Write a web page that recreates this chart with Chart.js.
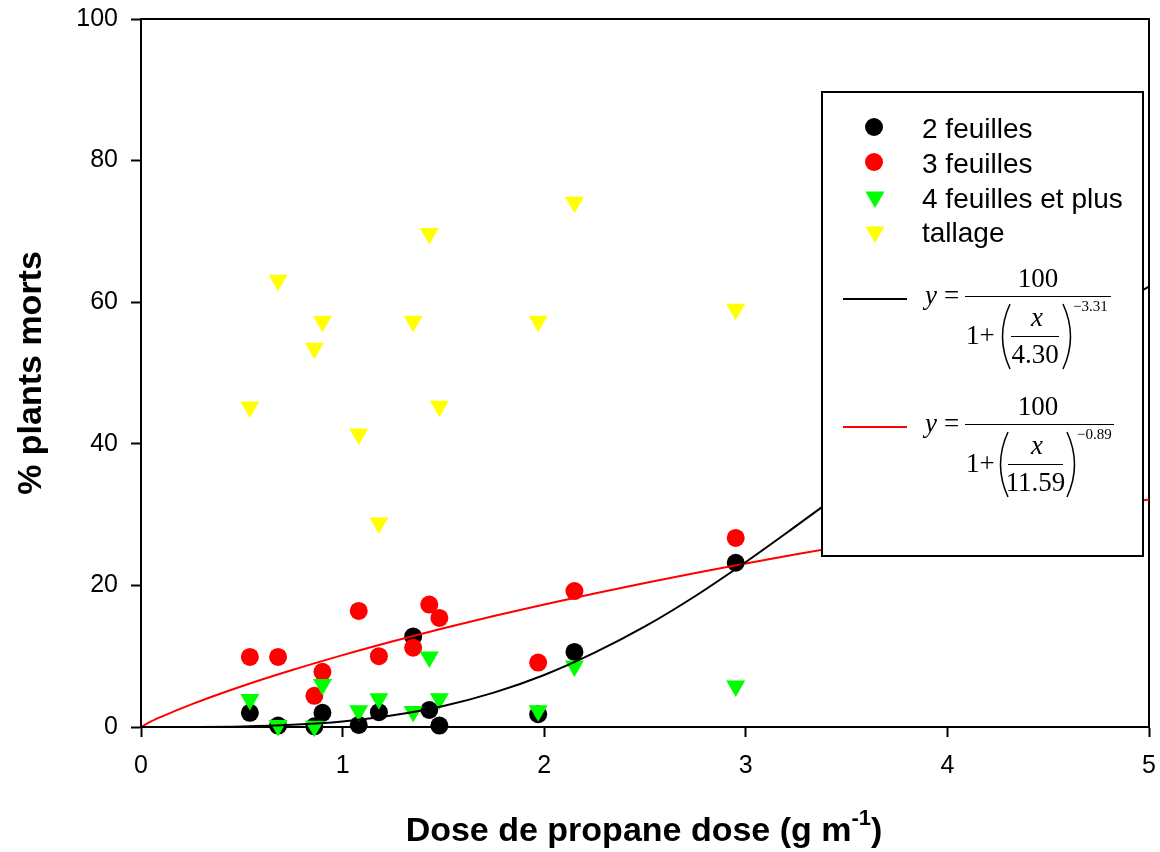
<!DOCTYPE html>
<html>
<head>
<meta charset="utf-8">
<script src="https://cdn.jsdelivr.net/npm/chart.js@4"></script>
<style>
  html, body { margin: 0; padding: 0; background: #fff; }
  #wrap { width: 1160px; height: 852px; }
</style>
</head>
<body>
<div id="wrap"><canvas id="doseChart" width="1160" height="852"></canvas></div>
<script>
// Doses (g m-1) shared by the four stages
const doses = [0.54, 0.68, 0.86, 0.90, 1.08, 1.18, 1.35, 1.43, 1.48, 1.97, 2.15, 2.95];

// % plants morts per stage
const deux = [2.0, 0.2, 0.1, 2.0, 0.3, 2.1, 12.8, 2.4, 0.2, 1.8, 10.6, 23.2];
const trois = [9.9, 9.9, 4.4, 7.8, 16.4, 10.0, 11.2, 17.3, 15.4, 9.1, 19.2, 26.7];
const quatre = [3.9, 0.2, 0.1, 6.0, 2.3, 4.0, 2.2, 9.9, 4.0, 2.3, 8.6, 5.8];
const tallage = [45.2, 63.1, 53.5, 57.3, 41.4, 28.8, 57.3, 69.7, 45.3, 57.3, 74.1, 59.0];

// Fitted curves, read along the x axis
const curveX = [0, 0.05, 0.1, 0.25, 0.5, 0.75, 1, 1.25, 1.5, 1.75, 2, 2.25, 2.5, 2.75, 3, 3.25, 3.5, 3.75, 4, 4.25, 4.5, 4.75, 5];
const fitNoir = [0, 0, 0, 0.01, 0.08, 0.31, 0.79, 1.65, 2.97, 4.85, 7.35, 10.5, 14.2, 18.5, 23.3, 28.4, 33.6, 38.9, 44.0, 49.0, 53.8, 58.2, 62.2];
const fitRouge = [0, 0.78, 1.43, 3.19, 5.75, 8.04, 10.15, 12.11, 13.95, 15.68, 17.31, 18.86, 20.34, 21.75, 23.09, 24.39, 25.62, 26.81, 27.95, 29.05, 30.11, 31.13, 32.12];

const xTicks = [0, 1, 2, 3, 4, 5];
const yTicks = [0, 20, 40, 60, 80, 100];

const sans = '"Liberation Sans", Arial, sans-serif';
const serif = '"Liberation Serif", "Times New Roman", serif';

function pts(xs, ys) {
    return xs.map((x, i) => ({ x: x, y: ys[i] }));
}

// draws the frame, the boxed legend with the two equations and the x title
const decorPlugin = {
    id: 'decor',
    beforeDatasetsDraw(chart) {
        const { ctx, chartArea: a } = chart;
        ctx.save();
        ctx.strokeStyle = '#000';
        ctx.lineWidth = 2;
        ctx.strokeRect(a.left, a.top, a.right - a.left, a.bottom - a.top);
        ctx.restore();
    },
    afterDraw(chart) {
        const ctx = chart.ctx;
        ctx.save();

        // legend box
        ctx.fillStyle = '#fff';
        ctx.fillRect(822, 92, 321, 464);
        ctx.strokeStyle = '#000';
        ctx.lineWidth = 2;
        ctx.strokeRect(822, 92, 321, 464);

        // symbol entries
        ctx.fillStyle = '#000';
        ctx.beginPath(); ctx.arc(874, 127, 9, 0, Math.PI * 2); ctx.fill();
        ctx.fillStyle = '#ff0000';
        ctx.beginPath(); ctx.arc(874, 162, 9, 0, Math.PI * 2); ctx.fill();
        function tri(cx, cy, color) {
            const r = 11;
            ctx.fillStyle = color;
            ctx.beginPath();
            ctx.moveTo(cx - r * 0.866, cy - r / 2);
            ctx.lineTo(cx + r * 0.866, cy - r / 2);
            ctx.lineTo(cx, cy + r);
            ctx.closePath();
            ctx.fill();
        }
        tri(875, 197, '#00ff00');
        tri(875, 232, '#ffff00');

        ctx.fillStyle = '#000';
        ctx.font = '28px ' + sans;
        ctx.textAlign = 'left';
        ctx.textBaseline = 'alphabetic';
        ctx.fillText('2 feuilles', 922, 138);
        ctx.fillText('3 feuilles', 922, 173);
        ctx.fillText('4 feuilles et plus', 922, 208);
        ctx.fillText('tallage', 922, 242);

        // line samples
        ctx.lineWidth = 2;
        ctx.strokeStyle = '#000';
        ctx.beginPath(); ctx.moveTo(843, 299); ctx.lineTo(907, 299); ctx.stroke();
        ctx.strokeStyle = '#ff0000';
        ctx.beginPath(); ctx.moveTo(843, 427); ctx.lineTo(907, 427); ctx.stroke();

        // y = 100 / (1 + (x / b)^c)
        function equation(dy, barEnd, b, c, parenL, parenR, innerL, innerR, expX) {
            ctx.fillStyle = '#000';
            ctx.strokeStyle = '#000';
            ctx.textAlign = 'left';
            ctx.font = 'italic 27px ' + serif;
            ctx.fillText('y', 925, 304 + dy);
            ctx.font = '27px ' + serif;
            ctx.fillText('=', 944, 304 + dy);
            ctx.lineWidth = 1;
            ctx.beginPath(); ctx.moveTo(965, 296.5 + dy); ctx.lineTo(barEnd, 296.5 + dy); ctx.stroke();
            ctx.textAlign = 'center';
            ctx.fillText('100', 1038, 287 + dy);
            ctx.textAlign = 'left';
            ctx.fillText('1+', 966, 344 + dy);
            ctx.font = 'italic 27px ' + serif;
            ctx.textAlign = 'center';
            ctx.fillText('x', 1037, 326 + dy);
            ctx.beginPath(); ctx.moveTo(innerL, 336.5 + dy); ctx.lineTo(innerR, 336.5 + dy); ctx.stroke();
            ctx.font = '27px ' + serif;
            ctx.fillText(b, (innerL + innerR) / 2, 363 + dy);
            // large parentheses
            ctx.lineWidth = 1.5;
            const top = 304 + dy, bot = 369 + dy, mid = (top + bot) / 2;
            ctx.beginPath();
            ctx.moveTo(parenL + 9, top);
            ctx.quadraticCurveTo(parenL - 6, mid, parenL + 9, bot);
            ctx.stroke();
            ctx.beginPath();
            ctx.moveTo(parenR - 9, top);
            ctx.quadraticCurveTo(parenR + 6, mid, parenR - 9, bot);
            ctx.stroke();
            ctx.font = '15px ' + serif;
            ctx.textAlign = 'left';
            ctx.fillText(c, expX, 311 + dy);
        }
        equation(0, 1111, '4.30', '\u22123.31', 1001, 1072, 1011, 1059, 1073);
        equation(128, 1114, '11.59', '\u22120.89', 999, 1076, 1008, 1063, 1077);

        // x axis title with superscript
        const main = 'Dose de propane dose (g m';
        const sup = '-1';
        const close = ')';
        const bigFont = 'bold 34px ' + sans;
        const supFont = 'bold 22px ' + sans;
        ctx.font = bigFont;
        const w1 = ctx.measureText(main).width;
        const w3 = ctx.measureText(close).width;
        ctx.font = supFont;
        const w2 = ctx.measureText(sup).width;
        const total = w1 + w2 + w3;
        let x0 = 644 - total / 2;
        ctx.textAlign = 'left';
        ctx.fillStyle = '#000';
        ctx.font = bigFont;
        ctx.fillText(main, x0, 841);
        ctx.font = supFont;
        ctx.fillText(sup, x0 + w1, 825);
        ctx.font = bigFont;
        ctx.fillText(close, x0 + w1 + w2, 841);

        ctx.restore();
    }
};

const pointCommon = {
    showLine: false,
    clip: false,
    pointBorderWidth: 0
};

new Chart(document.getElementById('doseChart'), {
    type: 'scatter',
    data: {
        datasets: [
            {
                label: 'fit 2 feuilles',
                data: pts(curveX, fitNoir),
                showLine: true,
                borderColor: '#000',
                borderWidth: 2,
                pointRadius: 0,
                cubicInterpolationMode: 'monotone',
                order: 1
            },
            {
                label: 'fit 3 feuilles',
                data: pts(curveX, fitRouge),
                showLine: true,
                borderColor: '#ff0000',
                borderWidth: 2,
                pointRadius: 0,
                cubicInterpolationMode: 'monotone',
                order: 2
            },
            Object.assign({
                label: 'tallage',
                data: pts(doses, tallage),
                pointStyle: 'triangle',
                pointRotation: 180,
                pointRadius: 11,
                backgroundColor: '#ffff00',
                borderColor: '#ffff00',
                order: 3
            }, pointCommon),
            Object.assign({
                label: '4 feuilles et plus',
                data: pts(doses, quatre),
                pointStyle: 'triangle',
                pointRotation: 180,
                pointRadius: 11,
                backgroundColor: '#00ff00',
                borderColor: '#00ff00',
                order: 4
            }, pointCommon),
            Object.assign({
                label: '3 feuilles',
                data: pts(doses, trois),
                pointStyle: 'circle',
                pointRadius: 9,
                backgroundColor: '#ff0000',
                borderColor: '#ff0000',
                order: 5
            }, pointCommon),
            Object.assign({
                label: '2 feuilles',
                data: pts(doses, deux),
                pointStyle: 'circle',
                pointRadius: 9,
                backgroundColor: '#000',
                borderColor: '#000',
                order: 6
            }, pointCommon)
        ]
    },
    options: {
        responsive: false,
        animation: false,
        layout: { padding: { top: 19, right: 11, left: 0, bottom: 0 } },
        plugins: {
            legend: { display: false },
            tooltip: { enabled: false }
        },
        scales: {
            x: {
                type: 'linear',
                min: 0,
                max: 5,
                afterFit: function(scale) {
                    scale.height = 125;
                    scale.paddingLeft = 0;
                    scale.paddingRight = 0;
                },
                afterBuildTicks: function(scale) { scale.ticks = xTicks.map(v => ({ value: v })); },
                grid: { drawOnChartArea: false, drawTicks: true, tickLength: 10, tickColor: '#000', tickWidth: 2 },
                border: { display: true, color: '#000', width: 2 },
                ticks: { color: '#000', font: { family: sans, size: 25 }, padding: 14, maxRotation: 0 }
            },
            y: {
                type: 'linear',
                min: 0,
                max: 100,
                afterFit: function(scale) {
                    scale.width = 141;
                    scale.paddingTop = 0;
                    scale.paddingBottom = 0;
                },
                afterBuildTicks: function(scale) { scale.ticks = yTicks.map(v => ({ value: v })); },
                grid: { drawOnChartArea: false, drawTicks: true, tickLength: 10, tickColor: '#000', tickWidth: 2 },
                border: { display: true, color: '#000', width: 2 },
                ticks: { color: '#000', font: { family: sans, size: 25 }, padding: 13 },
                title: {
                    display: true,
                    text: '% plants morts',
                    color: '#000',
                    font: { family: sans, size: 34, weight: 'bold' },
                    padding: { top: 11, bottom: 0 }
                }
            }
        }
    },
    plugins: [decorPlugin]
});
</script>
</body>
</html>
